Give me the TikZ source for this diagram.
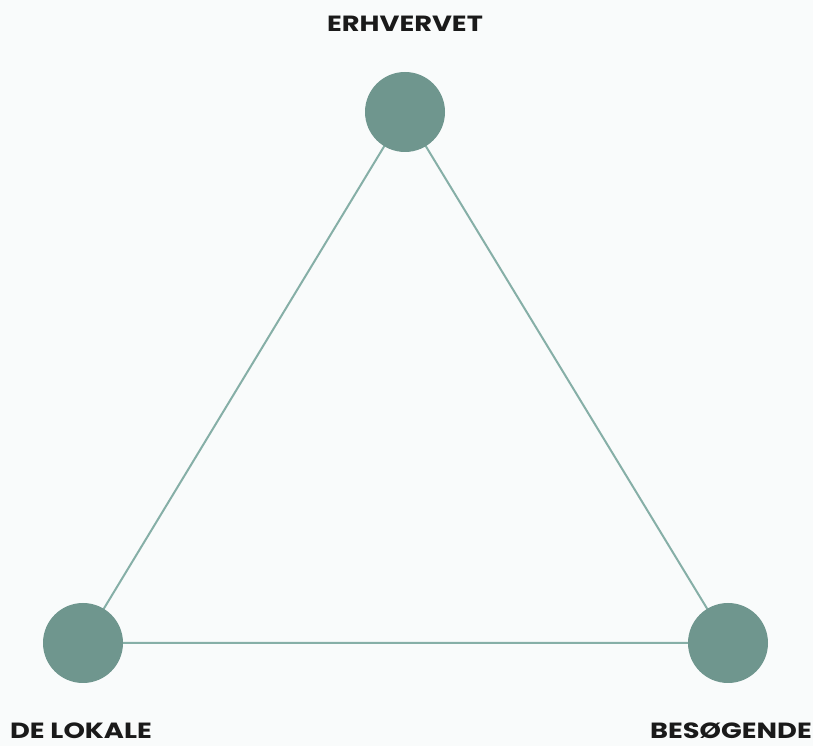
\documentclass[tikz,border=0pt]{standalone}
\usepackage{fontspec}
\setmainfont{Poppins}[BoldFont={* Bold}]
\newfontfamily\lblfont{Poppins Bold}[FakeStretch=1.24]
\definecolor{bgc}{HTML}{F9FBFB}
\definecolor{dotc}{HTML}{6F968E}
\definecolor{linec}{HTML}{86AFA7}
\definecolor{txtc}{HTML}{1A1A1A}
\begin{document}
\begin{tikzpicture}[x=1pt,y=1pt,
  dot/.style={circle,fill=dotc,minimum size=80pt,inner sep=0pt},
  conn/.style={draw=linec,line width=2pt},
  lbl/.style={anchor=base,text=txtc,font=\lblfont\fontsize{22}{26}\selectfont,inner sep=0pt,text depth=0pt}]
\fill[bgc] (0,0) rectangle (813,746);
\useasboundingbox (0,0) rectangle (813,746);
\coordinate (ct) at (405,634);
\coordinate (cl) at (83,103);
\coordinate (cr) at (728,103);
\draw[conn] (ct) -- (cl) -- (cr) -- cycle;
\node[dot] (top) at (ct) {};
\node[dot] (left) at (cl) {};
\node[dot] (right) at (cr) {};
\node[lbl] (ltop) at (405,714) {ERHVERVET};
\node[lbl] (lleft) at (81,7) {DE LOKALE};
\node[lbl] (lright) at (731,7) {BESØGENDE};
\end{tikzpicture}
\end{document}
